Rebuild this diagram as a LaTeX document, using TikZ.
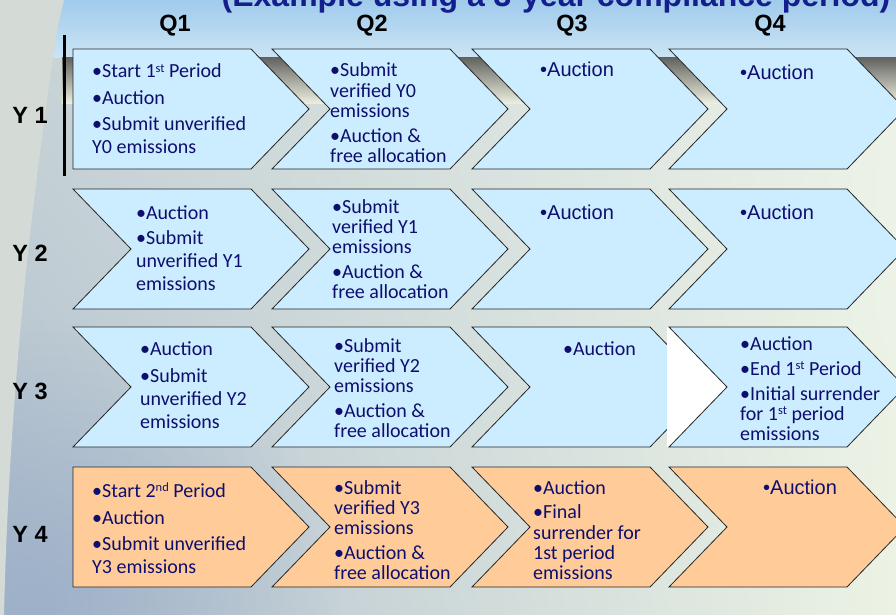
\documentclass[tikz,border=0pt]{standalone}
\usepackage{fontspec}
\setmainfont{Carlito}
\newfontfamily\arialf{Liberation Sans}
\newfontfamily\calf{Carlito}
\usetikzlibrary{fadings,shadings}
\definecolor{boxblue}{RGB}{204,236,255}
\definecolor{boxorange}{RGB}{255,204,153}
\definecolor{navytxt}{RGB}{14,14,110}
\definecolor{titleblue}{RGB}{20,30,140}
\definecolor{skyA}{RGB}{160,203,236}
\definecolor{skyB}{RGB}{204,228,244}
\definecolor{horA}{RGB}{100,100,96}
\definecolor{horM}{RGB}{185,186,176}
\definecolor{horB}{RGB}{238,241,226}
\definecolor{edgegray}{RGB}{212,219,215}
\definecolor{earthblue}{RGB}{150,170,198}
\definecolor{bgUL}{RGB}{200,212,214}
\definecolor{bgUR}{RGB}{236,242,232}
\definecolor{bgLL}{RGB}{175,190,206}
\definecolor{bgLR}{RGB}{236,243,228}
\tikzfading[name=softball, inner color=transparent!0, outer color=transparent!100]
\newcommand\blk[2]{\parbox[t]{230pt}{\raggedright\fontsize{20}{#1}\selectfont #2}}
\newcommand\sups[1]{\raisebox{0.62ex}{\fontsize{12.5}{12.5}\selectfont #1}}
\newcommand\chevflat[3]{\filldraw[chev, fill=#3] (#1,#2) -- ++(178,0) -- ++(58,60) -- ++(-58,60) -- ++(-178,0) -- cycle;}
\newcommand\chevnotch[3]{\filldraw[chev, fill=#3] (#1,#2) -- ++(178,0) -- ++(58,60) -- ++(-58,60) -- ++(-178,0) -- ++(58,-60) -- cycle;}
\tikzset{
  chev/.style={draw=black!85, line width=0.8pt, line join=miter},
  cal/.style={font=\calf, text=navytxt, inner sep=0pt, anchor=base west},
  ari/.style={font=\arialf\fontsize{20}{23}\selectfont, text=navytxt, inner sep=0pt, anchor=base west},
  hdr/.style={font=\arialf\bfseries\fontsize{23.5}{26}\selectfont, text=black, inner sep=0pt, anchor=base},
}
\begin{document}
\begin{tikzpicture}[x=1pt,y=-1pt]
\useasboundingbox (0,0) rectangle (896,615);
% ---- background ----
\shade[upper left=bgUL, upper right=bgUR, lower left=bgLL, lower right=bgLR]
  (0,0) rectangle (896,615);
\fill[earthblue, path fading=softball, opacity=0.7] (40,600) ellipse [x radius=300, y radius=280];
\shade[top color=skyA, bottom color=skyB] (0,0) rectangle (896,58);
\shade[top color=horA, middle color=horM, bottom color=horB] (62,58) rectangle (896,104);
\fill[edgegray] (0,0) -- (64,0) -- (57,30) .. controls (38,160) and (10,360) .. (4,615) -- (0,615) -- cycle;
% ---- title (cut off at the top) ----
\node[font=\arialf\bfseries\fontsize{32}{36}\selectfont, text=titleblue, anchor=base, inner sep=0pt] (title) at (556,7) {(Example using a 3-year compliance period)};
% ---- headers ----
\node[hdr] (q1) at (175,32) {Q1};
\node[hdr] (q2) at (372,32) {Q2};
\node[hdr] (q3) at (572,32) {Q3};
\node[hdr] (q4) at (770,32) {Q4};
\node[hdr] (y1) at (30,124) {Y 1};
\node[hdr] (y2) at (30,261) {Y 2};
\node[hdr] (y3) at (30,399) {Y 3};
\node[hdr] (y4) at (30,542) {Y 4};
\coordinate (vtop) at (64,35);
\coordinate (vbot) at (64,176);
\draw[line width=3pt] (vtop) -- (vbot);
% ---- chevrons ----
\chevflat{73}{49}{boxblue}
\chevnotch{272}{49}{boxblue}
\chevnotch{472}{49}{boxblue}
\chevnotch{669}{49}{boxblue}
\chevnotch{73}{189}{boxblue}
\chevnotch{272}{189}{boxblue}
\chevnotch{472}{189}{boxblue}
\chevnotch{669}{189}{boxblue}
\chevnotch{73}{327}{boxblue}
\chevnotch{272}{327}{boxblue}
\chevnotch{472}{327}{boxblue}
\fill[white] (667,327) rectangle (735,447);
\chevnotch{669}{327}{boxblue}
\chevflat{73}{467}{boxorange}
\chevnotch{272}{467}{boxorange}
\chevnotch{472}{467}{boxorange}
\chevnotch{669}{467}{boxorange}
% ---- texts row 1 ----
\node[cal] (t11) at (92,78) {\blk{23}{•Start 1\sups{st} Period\\[4pt]•Auction\\[3pt]•Submit unverified\\Y0 emissions}};
\node[cal] (t12) at (330,77) {\blk{20.3}{•Submit\\verified Y0\\emissions\\[4.5pt]•Auction \&\\free allocation}};
\node[ari] (t13) at (540,77) {•Auction};
\node[ari] (t14) at (740,80) {•Auction};
% ---- row 2 ----
\node[cal] (t21) at (136,219) {\blk{23}{•Auction\\[2pt]•Submit\\unverified Y1\\emissions}};
\node[cal] (t22) at (332,213) {\blk{20.3}{•Submit\\verified Y1\\emissions\\[4.5pt]•Auction \&\\free allocation}};
\node[ari] (t23) at (540,219) {•Auction};
\node[ari] (t24) at (740,219) {•Auction};
% ---- row 3 ----
\node[cal] (t31) at (140,355) {\blk{23}{•Auction\\[4pt]•Submit\\unverified Y2\\emissions}};
\node[cal] (t32) at (334,352) {\blk{20.3}{•Submit\\verified Y2\\emissions\\[4.5pt]•Auction \&\\free allocation}};
\node[cal] (t33) at (563,355) {\blk{23}{•Auction}};
\node[cal] (t34) at (740,350) {\blk{20}{•Auction\\[5pt]•End 1\sups{st} Period\\[5pt]•Initial surrender\\for 1\sups{st} period\\emissions}};
% ---- row 4 ----
\node[cal] (t41) at (92,497) {\blk{23}{•Start 2\sups{nd} Period\\[4pt]•Auction\\[3pt]•Submit unverified\\Y3 emissions}};
\node[cal] (t42) at (334,494) {\blk{20.3}{•Submit\\verified Y3\\emissions\\[4.5pt]•Auction \&\\free allocation}};
\node[cal] (t43) at (533,494) {\blk{20.3}{•Auction\\[4.5pt]•Final\\surrender for\\1st period\\emissions}};
\node[ari] (t44) at (763,494) {•Auction};
\end{tikzpicture}
\end{document}
